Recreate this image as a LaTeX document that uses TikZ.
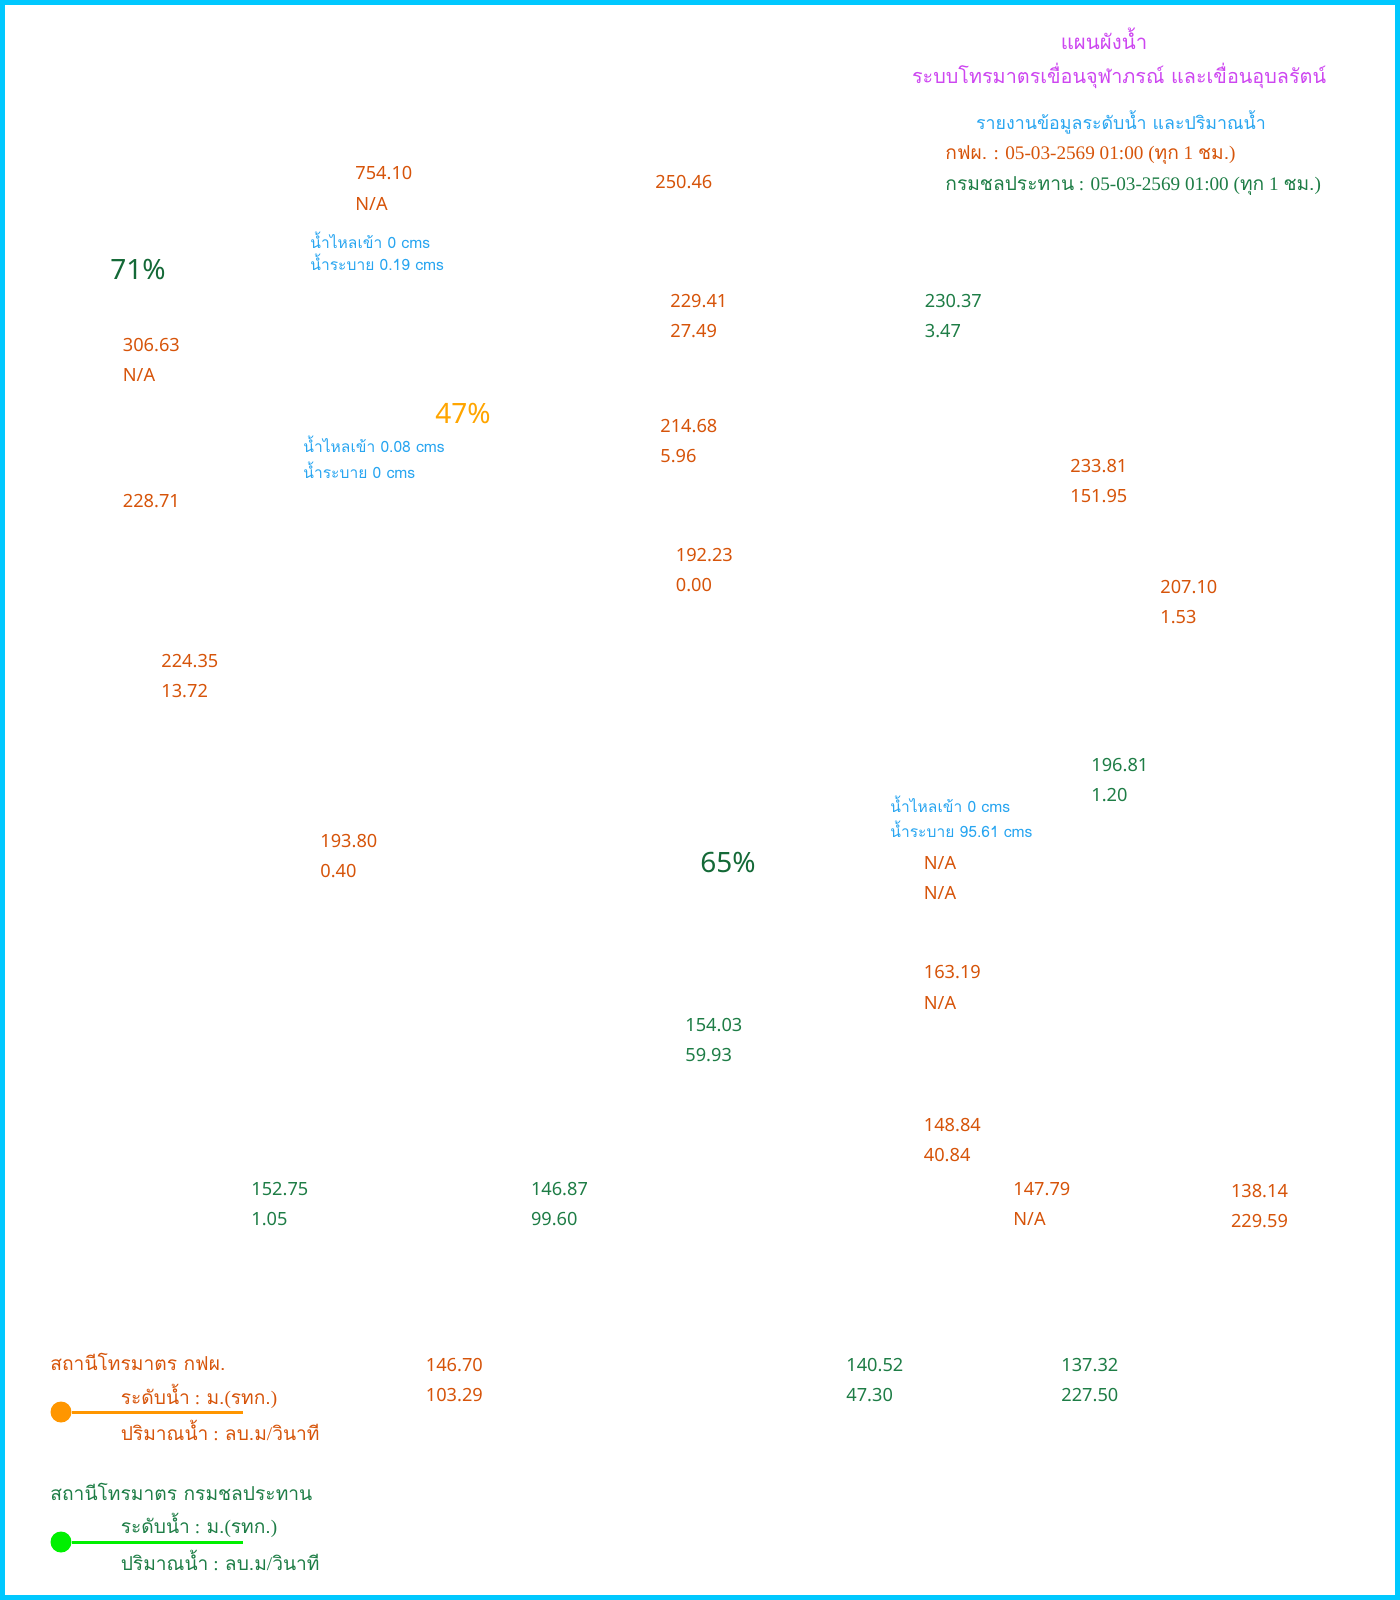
\documentclass[tikz,border=0pt]{standalone}
\usepackage{fontspec}
\setmainfont{Liberation Serif}
\newfontfamily\numfont{Noto Sans}
\newfontfamily\thaifont[Script=Thai]{Loma}
\definecolor{egat}{RGB}{214,84,10}
\definecolor{rid}{RGB}{30,125,70}
\definecolor{inflow}{RGB}{40,165,240}
\definecolor{headline}{RGB}{205,70,240}
\definecolor{framecol}{RGB}{0,200,255}
\definecolor{pctgreen}{RGB}{20,105,55}
\definecolor{pctorange}{RGB}{255,165,0}
\definecolor{egatline}{RGB}{255,150,0}
\definecolor{ridline}{RGB}{0,240,0}
\newcommand{\nodata}{N/A}
\newcommand{\thaitxt}[1]{{\thaifont #1}}
\begin{document}
\begin{tikzpicture}[x=0.5pt,y=-0.5pt,
    val/.style={anchor=west,inner sep=0pt,font=\numfont\fontsize{9.1}{11}\selectfont},
    pct/.style={anchor=west,inner sep=0pt,font=\numfont\fontsize{14}{16}\selectfont},
    cms/.style={anchor=west,inner sep=0pt,text=inflow,font=\thaifont\fontsize{7.8}{9}\selectfont},
    head/.style={inner sep=0pt,font=\thaifont\fontsize{9.9}{12}\selectfont},
    stamp/.style={anchor=west,inner sep=0pt,font=\fontsize{9.6}{12}\selectfont},
    legend/.style={anchor=west,inner sep=0pt,font=\fontsize{9.6}{12}\selectfont},
    dot/.style={circle,inner sep=0pt,minimum size=10.5pt}]
    \useasboundingbox (0,0) rectangle (1400,1600);
    \draw[framecol, line width=2.5pt] (2.5,2.5) rectangle (1397.5,1597.5);

    % header
    \node[head,text=headline,font=\thaifont\fontsize{10.2}{12}\selectfont] (title) at (1104,39) {แผนผังน้ำ};
    \node[head,text=headline] (system) at (1119,76) {ระบบโทรมาตรเขื่อนจุฬาภรณ์ และเขื่อนอุบลรัตน์};
    \node[head,text=inflow,font=\thaifont\fontsize{8.9}{11}\selectfont] (report) at (1121,122) {รายงานข้อมูลระดับน้ำ และปริมาณน้ำ};
    \node[stamp,text=egat] (egattime) at (945,155)
        {\thaitxt{กฟผ.} : 05-03-2569 01:00 (\thaitxt{ทุก} 1 \thaitxt{ชม.})};
    \node[stamp,text=rid] (ridtime) at (945,186)
        {\thaitxt{กรมชลประทาน} : 05-03-2569 01:00 (\thaitxt{ทุก} 1 \thaitxt{ชม.})};

    % stations: level and discharge
    \foreach \nx/\ny/\lvl/\qq/\col [count=\i] in {
        355/173.5/754.10/\nodata/egat, 122.5/345/306.63/\nodata/egat,
        670/301/229.41/27.49/egat, 924.5/301/230.37/3.47/rid,
        660/426.5/214.68/5.96/egat, 1070/466/233.81/151.95/egat,
        675.5/555/192.23/0.00/egat, 1160/586.7/207.10/1.53/egat,
        161/661/224.35/13.72/egat, 1091/765/196.81/1.20/rid,
        320/841/193.80/0.40/egat, 923.5/863/\nodata/\nodata/egat,
        923.5/972.5/163.19/\nodata/egat, 685/1025.5/154.03/59.93/rid,
        923.5/1125.5/148.84/40.84/egat, 251/1189/152.75/1.05/rid,
        530.6/1189/146.87/99.60/rid, 1013/1189/147.79/\nodata/egat,
        1230.6/1191/138.14/229.59/egat, 425.5/1365/146.70/103.29/egat,
        846/1365/140.52/47.30/rid, 1061/1365/137.32/227.50/rid}{
        \node[val,text=\col] (lvl\i) at (\nx,\ny) {\lvl};
        \node[val,text=\col] (q\i) at (\nx,{\ny+30}) {\qq};
    }
    \node[val,text=egat] (lvlmae) at (655,181.6) {250.46};
    \node[val,text=egat] (lvlhuai) at (122.5,501) {228.71};

    % reservoirs
    \node[pct,text=pctgreen] (pctjul) at (110,270) {71\%};
    \node[pct,text=pctorange] (pcthuai) at (435,413) {47\%};
    \node[pct,text=pctgreen] (pctubol) at (700,862) {65\%};
    \node[cms] (injul) at (310,240) {น้ำไหลเข้า 0 cms};
    \node[cms] (outjul) at (310,262) {น้ำระบาย 0.19 cms};
    \node[cms] (inhuai) at (303,444) {น้ำไหลเข้า 0.08 cms};
    \node[cms] (outhuai) at (303,470) {น้ำระบาย 0 cms};
    \node[cms] (inubol) at (890,804) {น้ำไหลเข้า 0 cms};
    \node[cms] (outubol) at (890,829.6) {น้ำระบาย 95.61 cms};

    % legend
    \node[legend,text=egat] (egatname) at (50,1362) {\thaitxt{สถานีโทรมาตร กฟผ.}};
    \node[legend,text=egat] (egatlvl) at (120.4,1396) {\thaitxt{ระดับน้ำ} : \thaitxt{ม.}(\thaitxt{รทก.})};
    \node[legend,text=egat] (egatq) at (120.4,1430.6) {\thaitxt{ปริมาณน้ำ} : \thaitxt{ลบ.ม}/\thaitxt{วินาที}};
    \node[dot,fill=egatline] (egatdot) at (61,1412) {};
    \coordinate (egatend) at (243,1412);
    \draw[egatline, line width=1.5pt] (egatdot) -- (egatend);

    \node[legend,text=rid] (ridname) at (50,1492) {\thaitxt{สถานีโทรมาตร กรมชลประทาน}};
    \node[legend,text=rid] (ridlvl) at (120.4,1525.5) {\thaitxt{ระดับน้ำ} : \thaitxt{ม.}(\thaitxt{รทก.})};
    \node[legend,text=rid] (ridq) at (120.4,1560) {\thaitxt{ปริมาณน้ำ} : \thaitxt{ลบ.ม}/\thaitxt{วินาที}};
    \node[dot,fill=ridline] (riddot) at (61,1542) {};
    \coordinate (ridend) at (243,1542);
    \draw[ridline, line width=1.5pt] (riddot) -- (ridend);
\end{tikzpicture}
\end{document}
